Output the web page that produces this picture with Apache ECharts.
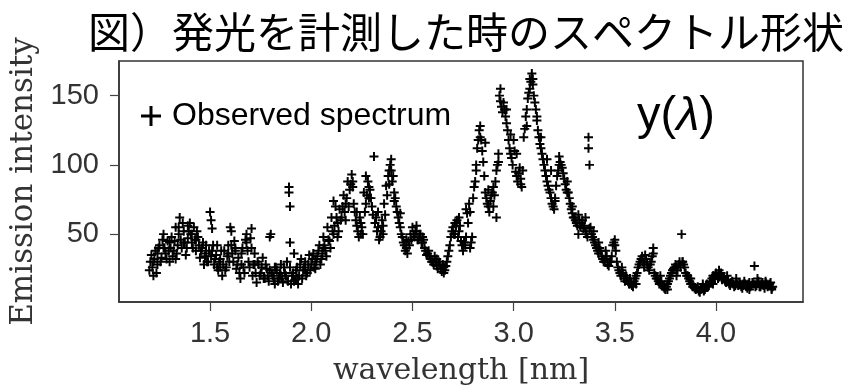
<!DOCTYPE html>
<html><head><meta charset="utf-8">
<script src="https://cdn.jsdelivr.net/npm/echarts@6/dist/echarts.min.js"></script>
<style>html,body{margin:0;padding:0;background:#fff}#c{width:855px;height:391px}</style>
</head><body><div id="c"></div>
<script>
// wavelength samples (nm), first pass
const wavelengthA = [
1.20,1.21,1.22,1.23,1.24,1.25,1.26,1.27,1.28,1.29,
1.30,1.31,1.32,1.33,1.34,1.35,1.36,1.37,1.38,1.39,
1.40,1.41,1.42,1.43,1.44,1.45,1.46,1.47,1.48,1.49,
1.50,1.51,1.52,1.53,1.54,1.55,1.56,1.57,1.58,1.59,
1.60,1.61,1.62,1.63,1.64,1.65,1.66,1.67,1.68,1.69,
1.70,1.71,1.72,1.73,1.74,1.75,1.76,1.77,1.78,1.79,
1.80,1.81,1.82,1.83,1.84,1.85,1.86,1.87,1.88,1.89,
1.90,1.91,1.92,1.93,1.94,1.95,1.96,1.97,1.98,1.99,
2.00,2.01,2.02,2.03,2.04,2.05,2.06,2.07,2.08,2.09,
2.10,2.11,2.12,2.13,2.14,2.15,2.16,2.17,2.18,2.19,
2.20,2.21,2.22,2.23,2.24,2.25,2.26,2.27,2.28,2.29,
2.30,2.31,2.32,2.33,2.34,2.35,2.36,2.37,2.38,2.39,
2.40,2.41,2.42,2.43,2.44,2.45,2.46,2.47,2.48,2.49,
2.50,2.51,2.52,2.53,2.54,2.55,2.56,2.57,2.58,2.59,
2.60,2.61,2.62,2.63,2.64,2.65,2.66,2.67,2.68,2.69,
2.70,2.71,2.72,2.73,2.74,2.75,2.76,2.77,2.78,2.79,
2.80,2.81,2.82,2.83,2.84,2.85,2.86,2.87,2.88,2.89,
2.90,2.91,2.92,2.93,2.94,2.95,2.96,2.97,2.98,2.99,
3.00,3.01,3.02,3.03,3.04,3.05,3.06,3.07,3.08,3.09,
3.10,3.11,3.12,3.13,3.14,3.15,3.16,3.17,3.18,3.19,
3.20,3.21,3.22,3.23,3.24,3.25,3.26,3.27,3.28,3.29,
3.30,3.31,3.32,3.33,3.34,3.35,3.36,3.37,3.38,3.39,
3.40,3.41,3.42,3.43,3.44,3.45,3.46,3.47,3.48,3.49,
3.50,3.51,3.52,3.53,3.54,3.55,3.56,3.57,3.58,3.59,
3.60,3.61,3.62,3.63,3.64,3.65,3.66,3.67,3.68,3.69,
3.70,3.71,3.72,3.73,3.74,3.75,3.76,3.77,3.78,3.79,
3.80,3.81,3.82,3.83,3.84,3.85,3.86,3.87,3.88,3.89,
3.90,3.91,3.92,3.93,3.94,3.95,3.96,3.97,3.98,3.99,
4.00,4.01,4.02,4.03,4.04,4.05,4.06,4.07,4.08,4.09,
4.10,4.11,4.12,4.13,4.14,4.15,4.16,4.17,4.18,4.19,
4.20,4.21,4.22,4.23,4.24,4.25,4.26,4.27,4.28
];
const intensityA = [
24,35,20,38,28,42,33,50,36,45,
30,48,38,55,42,62,40,52,35,47,
58,44,55,38,48,33,40,28,36,30,
66,38,28,35,24,32,20,38,26,42,
55,36,45,25,33,18,40,22,50,30,
47,20,36,15,28,22,33,18,25,16,
50,20,14,24,18,28,15,22,30,84,
14,22,17,26,20,32,24,30,22,35,
28,36,25,34,42,32,48,38,55,45,
62,50,70,58,68,62,78,72,88,82,
93,72,60,52,62,55,80,72,88,82,
70,106,62,55,48,60,72,85,92,100,
88,80,70,62,55,48,42,40,45,50,
55,48,52,46,50,44,40,35,38,32,
30,34,27,30,25,28,24,30,38,48,
55,50,60,52,45,38,42,65,72,44,
76,88,112,125,118,102,80,72,66,78,
70,88,100,150,142,145,135,125,112,105,
118,95,88,98,84,120,135,148,155,166,
150,140,125,115,108,100,92,85,80,72,
68,85,96,102,98,90,82,80,72,65,
62,58,64,55,60,56,50,120,55,48,
44,40,36,38,32,30,34,27,30,42,
46,30,24,20,22,16,18,14,15,12,
18,22,28,32,30,35,28,24,30,40,
20,18,14,16,12,10,14,18,22,25,
28,24,30,50,28,22,20,16,14,12,
10,12,8,11,9,13,12,16,18,20,
22,18,21,17,19,15,17,13,16,12,
15,13,14,11,16,12,14,12,15,27,
13,16,12,15,11,14,13,15,12
];
// wavelength samples (nm), second pass
const wavelengthB = [
1.205,1.215,1.225,1.235,1.245,1.255,1.265,1.275,1.285,1.295,
1.305,1.315,1.325,1.335,1.345,1.355,1.365,1.375,1.385,1.395,
1.405,1.415,1.425,1.435,1.445,1.455,1.465,1.475,1.485,1.495,
1.505,1.515,1.525,1.535,1.545,1.555,1.565,1.575,1.585,1.595,
1.605,1.615,1.625,1.635,1.645,1.655,1.665,1.675,1.685,1.695,
1.705,1.715,1.725,1.735,1.745,1.755,1.765,1.775,1.785,1.795,
1.805,1.815,1.825,1.835,1.845,1.855,1.865,1.875,1.885,1.895,
1.905,1.915,1.925,1.935,1.945,1.955,1.965,1.975,1.985,1.995,
2.005,2.015,2.025,2.035,2.045,2.055,2.065,2.075,2.085,2.095,
2.105,2.115,2.125,2.135,2.145,2.155,2.165,2.175,2.185,2.195,
2.205,2.215,2.225,2.235,2.245,2.255,2.265,2.275,2.285,2.295,
2.305,2.315,2.325,2.335,2.345,2.355,2.365,2.375,2.385,2.395,
2.405,2.415,2.425,2.435,2.445,2.455,2.465,2.475,2.485,2.495,
2.505,2.515,2.525,2.535,2.545,2.555,2.565,2.575,2.585,2.595,
2.605,2.615,2.625,2.635,2.645,2.655,2.665,2.675,2.685,2.695,
2.705,2.715,2.725,2.735,2.745,2.755,2.765,2.775,2.785,2.795,
2.805,2.815,2.825,2.835,2.845,2.855,2.865,2.875,2.885,2.895,
2.905,2.915,2.925,2.935,2.945,2.955,2.965,2.975,2.985,2.995,
3.005,3.015,3.025,3.035,3.045,3.055,3.065,3.075,3.085,3.095,
3.105,3.115,3.125,3.135,3.145,3.155,3.165,3.175,3.185,3.195,
3.205,3.215,3.225,3.235,3.245,3.255,3.265,3.275,3.285,3.295,
3.305,3.315,3.325,3.335,3.345,3.355,3.365,3.375,3.385,3.395,
3.405,3.415,3.425,3.435,3.445,3.455,3.465,3.475,3.485,3.495,
3.505,3.515,3.525,3.535,3.545,3.555,3.565,3.575,3.585,3.595,
3.605,3.615,3.625,3.635,3.645,3.655,3.665,3.675,3.685,3.695,
3.705,3.715,3.725,3.735,3.745,3.755,3.765,3.775,3.785,3.795,
3.805,3.815,3.825,3.835,3.845,3.855,3.865,3.875,3.885,3.895,
3.905,3.915,3.925,3.935,3.945,3.955,3.965,3.975,3.985,3.995,
4.005,4.015,4.025,4.035,4.045,4.055,4.065,4.075,4.085,4.095,
4.105,4.115,4.125,4.135,4.145,4.155,4.165,4.175,4.185,4.195,
4.205,4.215,4.225,4.235,4.245,4.255,4.265,4.275
];
const intensityB = [
30,26,32,22,40,30,46,40,32,38,
40,34,45,36,50,46,58,44,40,52,
50,40,46,52,42,38,44,34,30,38,
34,42,32,26,30,38,28,24,34,30,
42,30,40,28,22,36,26,46,38,26,
40,28,22,30,20,26,18,28,20,24,
22,18,26,16,22,18,26,20,16,26,
20,16,24,14,28,18,26,20,28,24,
32,26,30,38,28,36,42,34,46,40,
52,56,62,52,60,70,66,76,70,86,
84,66,56,48,58,50,66,78,84,76,
64,58,52,46,52,56,64,78,86,96,
92,76,66,58,50,44,38,36,42,46,
50,52,46,50,44,46,38,36,34,30,
28,30,25,28,23,26,27,34,42,52,
50,56,48,56,42,44,48,58,66,48,
84,96,118,120,110,92,76,70,74,80,
78,96,108,146,138,140,130,118,108,100,
110,92,94,86,96,126,140,152,160,162,
145,132,120,112,104,96,88,82,76,70,
74,92,100,100,94,86,80,76,68,62,
60,56,60,58,54,52,48,54,50,46,
42,38,40,34,30,32,28,30,34,44,
38,26,22,24,18,20,16,14,13,16,
20,26,30,34,28,32,26,28,34,22,
18,16,15,13,11,12,16,20,24,26,
26,28,26,30,26,20,18,14,12,11,
11,9,10,12,10,14,13,15,20,18,
20,19,22,18,16,17,14,15,14,13,
14,15,12,13,14,11,15,13,14,12,
15,12,14,13,15,12,14,11
];
// additional observed points (repeated measurements / scatter)
const extraWavelength = [
1.22,1.24,1.27,1.30,1.33,1.345,1.37,1.39,1.41,1.43,1.48,1.505,1.51,1.535,1.55,1.59,1.605,1.625,1.655,1.68,
1.705,1.72,1.795,1.82,1.85,1.89,1.895,1.895,1.915,1.93,1.97,2.02,2.06,2.11,2.13,2.17,2.205,2.225,2.245,2.27,
2.285,2.33,2.355,2.385,2.395,2.41,2.44,2.47,2.52,2.55,2.62,2.655,2.71,2.73,2.765,2.785,2.815,2.835,2.86,2.875,
2.90,2.915,2.925,2.935,2.965,2.985,3.015,3.035,3.065,3.08,3.095,3.115,3.135,3.165,3.185,3.205,3.225,3.265,3.29,3.32,
3.37,3.375,3.355,3.395,3.42,3.455,3.50,3.535,3.575,3.605,3.645,3.69,3.725,3.76,3.805,3.835,3.875,3.935,3.985,4.015,
4.055,4.10,4.135,4.165,4.205,4.245,4.275
];
const extraIntensity = [
30,36,40,44,32,55,44,56,50,46,42,60,54,42,26,36,52,38,28,44,
54,28,48,26,20,80,70,44,36,18,24,32,40,74,48,60,88,66,50,92,
76,66,50,96,104,74,65,46,56,48,32,22,58,62,68,40,100,128,116,82,
84,62,102,155,140,122,108,90,128,162,158,135,120,104,96,76,106,88,70,50,
112,100,62,52,44,38,42,26,18,14,26,36,20,10,20,30,18,14,14,24,
20,18,14,10,18,16,10
];
const xTicks = [1.5, 2.0, 2.5, 3.0, 3.5, 4.0];
const yTicks = [50, 100, 150];
const seriesName = 'Observed spectrum';

const pts = [];
for (let i = 0; i < wavelengthA.length; i++) pts.push([wavelengthA[i], intensityA[i]]);
for (let i = 0; i < wavelengthB.length; i++) pts.push([wavelengthB[i], intensityB[i]]);
for (let i = 0; i < extraWavelength.length; i++) pts.push([extraWavelength[i], extraIntensity[i]]);

const plus = 'path://M3.9,0H6.1V10H3.9ZM0,3.9H10V6.1H0Z';
const chart = echarts.init(document.getElementById('c'), null, {renderer: 'canvas'});
chart.setOption({
  animation: false,
  backgroundColor: '#fff',
  title: {
    text: '図）発光を計測した時のスペクトル形状',
    left: 461, textAlign: 'center', top: 6,
    textStyle: {fontFamily: 'Noto Sans CJK JP', fontSize: 42, fontWeight: 'normal', color: '#000'}
  },
  legend: {
    data: [{name: seriesName, icon: 'path://M8.5,0H11.5V20H8.5ZM0,8.5H20V11.5H0Z'}],
    left: 136, top: 95, itemWidth: 20, itemHeight: 20,
    textStyle: {fontFamily: 'Liberation Sans', fontSize: 32, color: '#000', padding: [0, 0, 0, 6]},
    itemStyle: {color: '#000'}
  },
  grid: {left: 119, right: 52, top: 61, bottom: 81, show: true, borderColor: '#333', borderWidth: 1.5, backgroundColor: 'transparent'},
  xAxis: {
    type: 'value', min: 1.05, max: 4.43,
    name: 'wavelength [nm]', nameLocation: 'middle', nameGap: 54,
    nameTextStyle: {fontFamily: 'DejaVu Serif', fontSize: 30, color: '#333'},
    splitLine: {show: false},
    axisLine: {show: true, lineStyle: {color: '#333', width: 1.5}},
    axisTick: {show: true, customValues: xTicks, length: 9, lineStyle: {color: '#444', width: 1.2}},
    axisLabel: {customValues: xTicks, formatter: v => v.toFixed(1), margin: 17, fontFamily: 'Liberation Sans', fontSize: 29, color: '#333'}
  },
  yAxis: {
    type: 'value', min: 1, max: 175,
    name: 'Emission intensity', nameLocation: 'middle', nameGap: 78, nameRotate: 90,
    nameTextStyle: {fontFamily: 'DejaVu Serif', fontSize: 31, color: '#333'},
    splitLine: {show: false},
    axisLine: {show: true, lineStyle: {color: '#333', width: 1.5}},
    axisTick: {show: true, customValues: yTicks, length: 9, lineStyle: {color: '#444', width: 1.2}},
    axisLabel: {customValues: yTicks, margin: 20, fontFamily: 'Liberation Sans', fontSize: 29, color: '#333'}
  },
  graphic: [{
    type: 'text', left: 637, top: 93,
    style: {
      text: '{n|y(}{i|λ}{n|)}',
      rich: {
        n: {fontFamily: 'Liberation Sans', fontSize: 47, fill: '#000'},
        i: {fontFamily: 'Liberation Sans', fontStyle: 'italic', fontSize: 47, fill: '#000'}
      }
    }
  }],
  series: [{
    name: seriesName, type: 'scatter', data: pts,
    symbol: plus, symbolSize: 9,
    itemStyle: {color: '#000', opacity: 1}
  }]
});
</script></body></html>
